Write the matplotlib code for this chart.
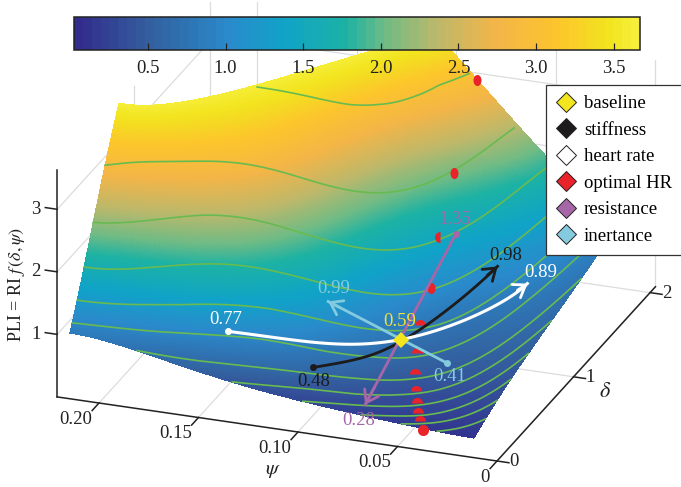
import numpy as np
import matplotlib
matplotlib.use("Agg")
import matplotlib.pyplot as plt
from matplotlib.colors import LinearSegmentedColormap, Normalize
from matplotlib.cm import ScalarMappable
from matplotlib.lines import Line2D
from matplotlib.markers import MarkerStyle
from matplotlib.transforms import Affine2D
from numpy.polynomial import polynomial as npoly
from mpl_toolkits.mplot3d import proj3d

plt.rcParams['font.family'] = ['Liberation Serif', 'DejaVu Serif']
plt.rcParams['mathtext.fontset'] = 'stix'
plt.rcParams['font.size'] = 13.5

# --- surface table ---
psi_table = [0.017, 0.03, 0.05, 0.07, 0.09, 0.11, 0.13, 0.15, 0.17, 0.19, 0.22]
delta_table = [0.14, 0.30, 0.50, 0.75, 1.00, 1.25, 1.50, 1.75, 2.00]
pli_table = [
    [0.10, 0.115, 0.14, 0.19, 0.26, 0.33, 0.41, 0.52, 0.63, 0.74, 0.85],
    [0.20, 0.25, 0.30, 0.38, 0.50, 0.72, 0.95, 1.10, 1.25, 1.38, 1.50],
    [0.33, 0.38, 0.46, 0.55, 0.85, 1.30, 1.60, 1.85, 2.05, 2.25, 2.45],
    [0.45, 0.50, 0.58, 0.78, 1.10, 1.60, 2.10, 2.65, 3.00, 3.25, 3.65],
    [0.55, 0.65, 0.80, 1.02, 1.35, 1.85, 2.30, 2.90, 3.45, 3.85, 4.40],
    [0.67, 0.80, 1.05, 1.38, 1.70, 2.20, 2.80, 3.40, 4.00, 4.50, 5.20],
    [0.76, 0.95, 1.30, 1.75, 2.10, 2.65, 3.25, 3.85, 4.40, 4.90, 5.60],
    [0.87, 1.15, 1.60, 2.10, 2.50, 3.05, 3.65, 4.20, 4.70, 5.20, 6.00],
    [1.00, 1.35, 1.90, 2.42, 3.10, 3.80, 4.30, 4.80, 5.30, 5.80, 6.60],
]
# where the surface runs out of the z range
top_psi = [0.105, 0.1256, 0.1662, 0.1834, 0.22]
top_delta = [2.0, 1.776, 1.156, 1.0, 0.78]

# green curves: delta at the given psi, one row per curve
curve_psi = [0.22, 0.17, 0.13, 0.10, 0.08, 0.06, 0.045, 0.03, 0.017]
curve_delta = [
    [0.95, 1.15, 1.45, 1.85, 2.18, 2.90, 3.87, 5.80, 10.2],
    [0.60, 0.78, 1.02, 1.33, 1.66, 2.22, 2.96, 4.43, 7.82],
    [0.445, 0.58, 0.75, 0.98, 1.23, 1.63, 2.18, 3.27, 5.76],
    [0.326, 0.42, 0.55, 0.72, 0.90, 1.20, 1.59, 2.39, 4.22],
    [0.235, 0.30, 0.40, 0.52, 0.65, 0.86, 1.15, 1.72, 3.04],
    [0.17, 0.22, 0.29, 0.37, 0.47, 0.62, 0.83, 1.25, 2.20],
    [0.12, 0.154, 0.20, 0.26, 0.33, 0.44, 0.58, 0.87, 1.54],
    [0.089, 0.115, 0.15, 0.195, 0.24, 0.325, 0.43, 0.65, 1.15],
    [0.066, 0.085, 0.11, 0.145, 0.18, 0.24, 0.32, 0.48, 0.85],
    [0.048, 0.062, 0.081, 0.105, 0.13, 0.175, 0.23, 0.35, 0.62],
    [0.034, 0.044, 0.058, 0.075, 0.094, 0.125, 0.167, 0.25, 0.44],
    [0.023, 0.029, 0.038, 0.05, 0.0625, 0.083, 0.111, 0.167, 0.29],
]

# optimal HR dots
opt_psi = [0.087, 0.0825, 0.0778, 0.0729, 0.0686, 0.0637, 0.0586, 0.0547, 0.0504, 0.0494, 0.0468, 0.0428]
opt_delta = [2.0, 1.58, 1.275, 1.028, 0.784, 0.615, 0.455, 0.366, 0.268, 0.2547, 0.2123, 0.1482]
opt_pli = [3.0, 2.1, 1.5, 1.05, 0.8, 0.6, 0.5, 0.38, 0.34, 0.2, 0.14, 0.1]

# the four parameter sweeps through the baseline
base_psi, base_delta, base_pli = 0.0735, 0.662, 0.70
hr_psi = [0.1464, 0.1142, 0.0937, 0.0735, 0.0554, 0.0427, 0.034]
hr_delta = [0.294, 0.3975, 0.519, 0.662, 0.8327, 1.065, 1.284]
hr_pli = [1.0, 0.85, 0.75, 0.70, 0.78, 0.85, 0.95]
st_psi = [0.1042, 0.0897, 0.0794, 0.0735, 0.0628, 0.0538, 0.0454]
st_delta = [0.309, 0.4143, 0.5398, 0.662, 0.8033, 0.9606, 1.1885]
st_pli = [0.60, 0.62, 0.66, 0.70, 0.85, 1.10, 1.30]
res_psi = [0.0694, 0.0749]
res_delta = [1.2654, 0.2248]
res_pli = [1.60, 0.25]
ine_psi = [0.0476, 0.109]
ine_delta = [0.589, 0.628]
ine_pli = [0.55, 1.20]

psi_ticks = [0, 0.05, 0.10, 0.15, 0.20]
delta_ticks = [0, 1, 2]
pli_ticks = [1, 2, 3]
cbar_ticks = [0.5, 1.0, 1.5, 2.0, 2.5, 3.0, 3.5]
legend_names = ['baseline', 'stiffness', 'heart rate', 'optimal HR', 'resistance', 'inertance']

YELLOW, BLACK, RED = '#f4e61e', '#1d1b1c', '#e8232a'
PURPLE, LBLUE, GREEN = '#a766a8', '#84cbe0', '#68bb50'
DARK = '#222222'

colour_stops = [(0.0, '#322c8c'), (0.13, '#33609f'), (0.27, '#2a8acb'), (0.37, '#10a3c8'),
                (0.48, '#1cb2a4'), (0.55, '#6fbb85'), (0.645, '#bdb86a'), (0.75, '#f3b548'),
                (0.86, '#fcc52c'), (0.95, '#f2e41e'), (1.0, '#f6ee3a')]
surf_cmap = LinearSegmentedColormap.from_list('surf', colour_stops, N=256)
bar_cmap = LinearSegmentedColormap.from_list('bar', colour_stops, N=64)
norm = Normalize(0.023, 3.67)

PSI_MAX, DELTA_MAX, PLI_MAX = 0.221, 2.07, 3.63
PSI_LOW, DELTA_LOW, DELTA_HIGH, PLI_TOP = 0.017, 0.14, 2.0, 3.65

fig = plt.figure(figsize=(6.81, 4.87), dpi=100)
ax = fig.add_axes([0, 0, 1, 1], projection='3d', proj_type='ortho', computed_zorder=False)
ax.view_init(elev=23.6, azim=-70)
ax.set_box_aspect((466, 460, 246))
ax.set_axis_off()
ax.patch.set_visible(False)

# --- surface: smooth the read table with a least squares polynomial ---
tp, td = np.meshgrid(psi_table, delta_table)
fit_deg = [5, 4]
coef = np.linalg.lstsq(npoly.polyvander2d(tp.ravel() * 5, td.ravel() / 2, fit_deg),
                       np.array(pli_table).ravel(), rcond=None)[0].reshape(fit_deg[0] + 1, fit_deg[1] + 1)
top_fit = np.polyfit(top_psi, top_delta, 3)


def top_edge(psi):
    return np.where(psi < top_psi[0], DELTA_HIGH, np.minimum(DELTA_HIGH, np.polyval(top_fit, psi)))


def pli_at(psi, delta):
    # pin the cut edge to the top of the z range
    raw = npoly.polyval2d(psi * 5, delta / 2, coef)
    edge = top_edge(psi)
    miss = PLI_TOP - npoly.polyval2d(psi * 5, edge / 2, coef)
    weight = np.clip((psi - top_psi[0]) / 0.015, 0, 1)
    return raw + weight * miss * ((delta - DELTA_LOW) / (edge - DELTA_LOW)) ** 3


fine_psi = np.linspace(PSI_LOW, 0.22, 240)
tt = np.linspace(0, 1, 240)
P = np.tile(fine_psi, (240, 1))
D = DELTA_LOW + np.outer(tt, top_edge(fine_psi) - DELTA_LOW)
Z = np.clip(pli_at(P, D), 0.03, PLI_TOP)
ax.plot_surface(P, D, Z, facecolors=surf_cmap(norm(Z)), rstride=1, cstride=1, shade=False,
                linewidth=0, antialiased=False, zorder=3)

# --- walls and floor ---
grid_kw = dict(color='#dcdcdc', lw=0.9, zorder=1)
for t in pli_ticks:
    ax.plot([PSI_MAX, PSI_MAX], [0, DELTA_MAX], [t, t], **grid_kw)
    ax.plot([PSI_MAX, 0], [DELTA_MAX, DELTA_MAX], [t, t], **grid_kw)
for t in delta_ticks[1:]:
    ax.plot([PSI_MAX, PSI_MAX], [t, t], [0, PLI_MAX], **grid_kw)
    ax.plot([PSI_MAX, 0], [t, t], [0, 0], **grid_kw)
for t in psi_ticks:
    ax.plot([t, t], [DELTA_MAX, DELTA_MAX], [0, PLI_MAX], **grid_kw)
    ax.plot([t, t], [0, DELTA_MAX], [0, 0], **grid_kw)

# --- axis lines and ticks ---
axis_kw = dict(color=DARK, lw=1.1, zorder=2)
ax.plot([PSI_MAX, 0], [0, 0], [0, 0], **axis_kw)
ax.plot([0, 0], [0, DELTA_MAX], [0, 0], **axis_kw)
ax.plot([PSI_MAX, PSI_MAX], [0, 0], [0, PLI_MAX], **axis_kw)
for t in psi_ticks:
    ax.plot([t, t], [0, -0.09], [0, 0], **axis_kw)
for t in delta_ticks:
    ax.plot([0, -0.006], [t, t], [0, 0], **axis_kw)
for t in pli_ticks:
    ax.plot([PSI_MAX, PSI_MAX + 0.006], [0, 0], [t, t], **axis_kw)

# --- green curves ---
line_psi = np.geomspace(PSI_LOW, 0.22, 200)
for row in curve_delta:
    line_delta = np.exp(np.interp(np.log(line_psi), np.log(curve_psi[::-1]), np.log(row[::-1])))
    keep = (line_delta >= DELTA_LOW) & (line_delta <= top_edge(line_psi))
    line_pli = pli_at(line_psi[keep], line_delta[keep])
    ax.plot(line_psi[keep], line_delta[keep], line_pli, color=GREEN, lw=1.2, zorder=4)


def smooth(values):
    idx = np.arange(len(values))
    fine = np.linspace(0, len(values) - 1, 80)
    return np.polyval(np.polyfit(idx, values, 4), fine)


# --- optimal HR dots, half sunk into the surface ---
narrow = MarkerStyle('o', transform=Affine2D().scale(0.72, 1.0))
dot_fill = ['narrow', 'narrow', 'left', 'narrow'] + ['top'] * 7 + ['full']
for i, fill in enumerate(dot_fill):
    dot_kw = dict(marker=narrow) if fill == 'narrow' else dict(marker='o', fillstyle=fill, markerfacecoloralt='none')
    ax.plot(opt_psi[i:i + 1], opt_delta[i:i + 1], opt_pli[i:i + 1], ls='none', ms=8, color=RED, mew=0, zorder=5,
            **dot_kw)

# --- sweeps ---
ax.plot(smooth(st_psi), smooth(st_delta), smooth(st_pli), color=BLACK, lw=2, zorder=6)
ax.plot(smooth(hr_psi), smooth(hr_delta), smooth(hr_pli), color='white', lw=2.2, zorder=7)
ax.plot(res_psi, res_delta, res_pli, color=PURPLE, lw=2, zorder=6)
ax.plot(ine_psi, ine_delta, ine_pli, color=LBLUE, lw=2, zorder=6)
for xs, ys, zs, col in [(st_psi, st_delta, st_pli, BLACK), (hr_psi, hr_delta, hr_pli, 'white'),
                        (res_psi, res_delta, res_pli, PURPLE), (ine_psi, ine_delta, ine_pli, LBLUE)]:
    ax.plot(xs[:1], ys[:1], zs[:1], marker='o', ms=5, color=col, mew=0, zorder=7)
ax.plot([base_psi], [base_delta], [base_pli], marker='D', ms=8, color=YELLOW, mew=0, zorder=12)

ax.set_xlim(0.2216, 0)
ax.set_ylim(0, DELTA_MAX)
ax.set_zlim(0, PLI_MAX)


def screen(x, y, z):
    px, py, _ = proj3d.proj_transform(x, y, z, ax.get_proj())
    return px, py


def display(x, y, z):
    return ax.transData.transform(screen(x, y, z))


# place the 3d box: origin and psi = 0.2 tick on the reference's pixels
for _ in range(3):
    fig.canvas.draw()
    p0 = display(0, 0, 0)
    p1 = display(0.2, 0, 0)
    k = 402.2 / np.hypot(*(p1 - p0))
    pos = ax.get_position(original=True)
    ax.set_position([pos.x0, pos.y0, pos.width * k, pos.height * k])
    fig.canvas.draw()
    p0 = display(0, 0, 0)
    pos = ax.get_position(original=True)
    ax.set_position([pos.x0 + (497 - p0[0]) / 681, pos.y0 + ((487 - 461) - p0[1]) / 487,
                     pos.width, pos.height])
fig.canvas.draw()


def label(x, y, z, text, dx, dy, **kw):
    ax.annotate(text, xy=screen(x, y, z), xytext=(dx * 0.72, -dy * 0.72), textcoords='offset points',
                ha='center', va='center', annotation_clip=False, zorder=9, **kw)


def arrow(xs, ys, zs, col, part):
    # only the head: the shaft is already drawn
    end = np.array(screen(xs[-1], ys[-1], zs[-1]))
    prev = np.array(screen(xs[-2], ys[-2], zs[-2]))
    ax.annotate('', xy=end, xytext=end + (prev - end) * part,
                arrowprops=dict(arrowstyle='->,head_length=0.6,head_width=0.42', color=col, lw=2,
                                shrinkA=0, shrinkB=0), zorder=8)


arrow(st_psi, st_delta, st_pli, BLACK, 0.3)
arrow(hr_psi, hr_delta, hr_pli, 'white', 0.3)
arrow(res_psi, res_delta, res_pli, PURPLE, 0.1)
arrow(ine_psi, ine_delta, ine_pli, LBLUE, 0.1)

label(base_psi, base_delta, base_pli, '0.59', -2, -19, color='#f0e23c')
label(hr_psi[0], hr_delta[0], hr_pli[0], '0.77', -2, -12, color='white')
label(hr_psi[-1], hr_delta[-1], hr_pli[-1], '0.89', 13, -11, color='white')
label(st_psi[0], st_delta[0], st_pli[0], '0.48', 0, 14, color=BLACK)
label(st_psi[-1], st_delta[-1], st_pli[-1], '0.98', 8, -11, color=BLACK)
label(ine_psi[0], ine_delta[0], ine_pli[0], '0.41', 2, 13, color=LBLUE)
label(ine_psi[-1], ine_delta[-1], ine_pli[-1], '0.99', 6, -13, color=LBLUE)
label(res_psi[0], res_delta[0], res_pli[0], '1.35', -1, -15, color=PURPLE)
label(res_psi[-1], res_delta[-1], res_pli[-1], '0.28', -6, 16, color=PURPLE)

for t in psi_ticks[1:]:
    label(t, 0, 0, '%.2f' % t, -23, 16, color=DARK)
label(0, 0, 0, '0', -12, 16, color=DARK)
for t in delta_ticks:
    label(0, t, 0, '%d' % t, 17, 1, color=DARK)
for t in pli_ticks:
    label(PSI_MAX, 0, t, '%d' % t, -21, 0, color=DARK)
label(0.10, 0, 0, r'$\psi$', -25, 38, color=DARK, fontsize=15)
label(0, 1, 0, r'$\delta$', 32, 16, color=DARK, fontsize=16)

fig.text(17 / 681, 1 - 285 / 487, r'PLI = RI $f\,(\delta, \psi)$', rotation=90, ha='center', va='center',
         color=DARK, fontsize=13)

# --- colour bar ---
cax = fig.add_axes([74 / 681, 1 - 50 / 487, 566 / 681, 33 / 487], zorder=10)
cb = fig.colorbar(ScalarMappable(norm=norm, cmap=bar_cmap), cax=cax, orientation='horizontal')
cb.set_ticks(cbar_ticks)
cb.ax.set_xticklabels(['%.1f' % t for t in cbar_ticks], color=DARK)
cb.ax.tick_params(axis='x', direction='in', length=5, width=0.9, pad=7, color=DARK)
cb.outline.set_edgecolor(DARK)
cb.outline.set_linewidth(1.1)

# --- legend ---
legend_colours = [YELLOW, BLACK, 'white', RED, PURPLE, LBLUE]
handles = [Line2D([], [], ls='none', marker='D', ms=10, mfc=c, mec=DARK, mew=0.7) for c in legend_colours]
leg = fig.legend(handles, legend_names, loc='upper left', bbox_to_anchor=(546 / 681, 1 - 85 / 487),
                 fontsize=13.5, frameon=True, fancybox=False, edgecolor='#333333', framealpha=1,
                 labelspacing=0.5, handletextpad=0.46, borderpad=0.55, borderaxespad=0, handlelength=1.02)
leg.get_frame().set_linewidth(0.9)
leg.set_zorder(11)

fig.savefig('out.png', dpi=100)
